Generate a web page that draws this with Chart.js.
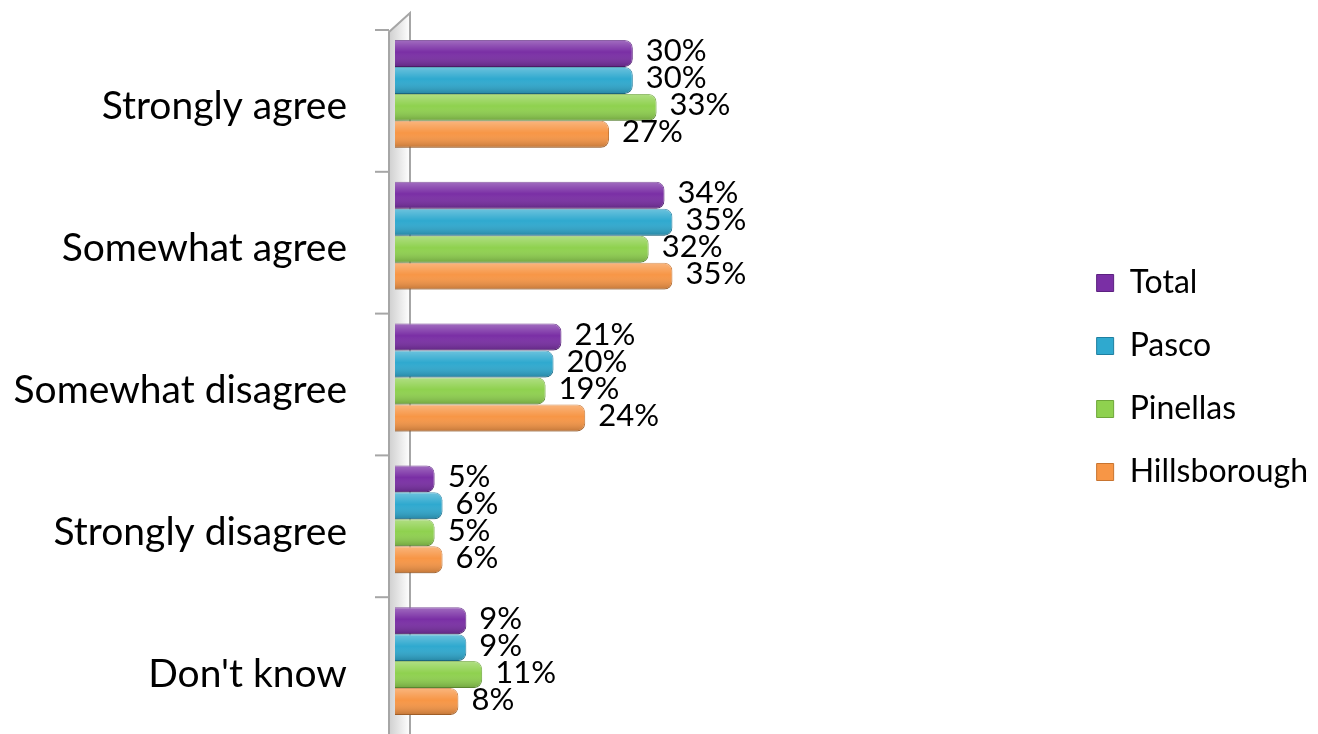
<!DOCTYPE html>
<html>
<head>
<meta charset="utf-8">
<script src="https://cdn.jsdelivr.net/npm/chart.js@4.4.1/dist/chart.umd.min.js"></script>
<style>
    html, body { margin: 0; padding: 0; background: #fff; overflow: hidden; }
    .chart-box { position: relative; width: 1318px; height: 734px; }
</style>
</head>
<body>
<div class="chart-box"><canvas id="myChart"></canvas></div>
<script>
const categories = ["Strongly agree", "Somewhat agree", "Somewhat disagree", "Strongly disagree", "Don't know"];
const total = [30, 34, 21, 5, 9];
const pasco = [30, 35, 20, 6, 9];
const pinellas = [33, 32, 19, 5, 11];
const hillsborough = [27, 35, 24, 6, 8];

const ctx = document.getElementById('myChart');

function series(label, data, color, edge) {
    return {
        label: label,
        data: data,
        backgroundColor: color,
        borderColor: edge,
        borderWidth: 1,
        borderSkipped: 'start',
        borderRadius: 8,
        barPercentage: 1.0,
        categoryPercentage: 0.76,
    };
}

// faux 3D wall on the left of the bars
const wallPlugin = {
    id: 'wall',
    beforeDatasetsDraw(chart) {
        const c = chart.ctx;
        const area = chart.chartArea;
        const y = chart.scales.y;
        const x1 = area.left - 6, x2 = area.left + 15;
        c.save();
        const g = c.createLinearGradient(x1, 0, x2, 0);
        g.addColorStop(0, '#cfcfcf');
        g.addColorStop(1, '#ffffff');
        c.fillStyle = g;
        c.beginPath();
        c.moveTo(x1, area.top + 9);
        c.lineTo(x2, area.top - 10);
        c.lineTo(x2, area.bottom + 10);
        c.lineTo(x1, area.bottom + 10);
        c.closePath();
        c.fill();
        c.strokeStyle = '#a6a6a6';
        c.lineWidth = 2;
        c.beginPath();
        c.moveTo(x1, area.bottom + 10);
        c.lineTo(x1, area.top + 9);
        c.lineTo(x2, area.top - 10);
        c.lineTo(x2, area.bottom + 10);
        c.stroke();
        // tick marks at category boundaries
        for (let i = 0; i < categories.length; i++) {
            const ty = y.getPixelForValue(i - 0.5) + 7;
            c.beginPath();
            c.moveTo(x1 - 14, ty);
            c.lineTo(x1, ty);
            c.stroke();
        }
        c.restore();
    }
};

// gloss on each bar plus value labels
const barLabels = {
    id: 'barLabels',
    afterDatasetsDraw(chart) {
        const c = chart.ctx;
        c.save();
        chart.data.datasets.forEach((ds, di) => {
            const meta = chart.getDatasetMeta(di);
            meta.data.forEach((bar, i) => {
                const h = bar.height;
                const top = bar.y - h / 2;
                const g = c.createLinearGradient(0, top, 0, top + h);
                g.addColorStop(0, 'rgba(255,255,255,0.30)');
                g.addColorStop(0.45, 'rgba(255,255,255,0)');
                g.addColorStop(1, 'rgba(0,0,0,0.22)');
                c.fillStyle = g;
                c.beginPath();
                c.roundRect(bar.base, top, bar.x - bar.base, h, [0, 8, 8, 0]);
                c.fill();

                c.fillStyle = '#000';
                c.font = '31px Lato';
                c.textAlign = 'left';
                c.textBaseline = 'middle';
                c.fillText(ds.data[i] + '%', bar.x + 13, bar.y - 2);
            });
        });
        c.restore();
    }
};

const lineChart = new Chart(ctx, {
    type: 'bar',
    data: {
        labels: categories,
        datasets: [
            series('Total', total, '#7a2fa5', '#5c2180'),
            series('Pasco', pasco, '#2fa9cf', '#1f7fa0'),
            series('Pinellas', pinellas, '#8fd14f', '#6ea63a'),
            series('Hillsborough', hillsborough, '#f79646', '#c8742f'),
        ]
    },
    options: {
        indexAxis: 'y',
        responsive: true,
        maintainAspectRatio: false,
        animation: false,
        layout: {
            padding: { top: 23, bottom: 2, left: 0, right: 0 }
        },
        plugins: {
            legend: {
                position: 'right',
                labels: {
                    boxWidth: 17,
                    boxHeight: 17,
                    padding: 31,
                    color: '#000',
                    font: { family: 'Lato', size: 32 }
                }
            },
            tooltip: { enabled: false }
        },
        scales: {
            x: {
                display: false,
                min: 0,
                max: 84.6,
            },
            y: {
                afterFit(scale) {
                    scale.width = 395;
                    scale.paddingTop = 0;
                    scale.paddingBottom = 0;
                },
                grid: { display: false },
                border: { display: false },
                ticks: {
                    padding: 40,
                    labelOffset: 13,
                    color: '#000',
                    font: { family: 'Lato', size: 39 }
                }
            }
        }
    },
    plugins: [wallPlugin, barLabels]
});
</script>
</body>
</html>
